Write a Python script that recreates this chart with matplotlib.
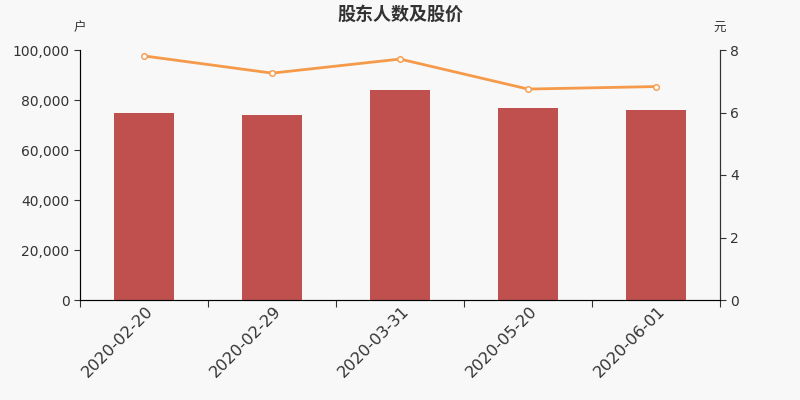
import matplotlib
matplotlib.use("Agg")
import matplotlib.pyplot as plt
from matplotlib.ticker import FuncFormatter

plt.rcParams['font.family'] = ['DejaVu Sans', 'Noto Sans CJK SC']

dates = ["2020-02-20", "2020-02-29", "2020-03-31", "2020-05-20", "2020-06-01"]
holders = [74800, 74000, 84200, 77000, 76000]
price = [7.81, 7.26, 7.71, 6.75, 6.83]

bg = "#f8f8f8"
txt = "#333333"
cjk = ['Noto Sans CJK SC', 'DejaVu Sans']

fig = plt.figure(figsize=(8, 4), dpi=100, facecolor=bg)
ax = fig.add_axes([0.1, 0.25, 0.8, 0.625], facecolor=bg)
x = list(range(len(dates)))
ax.bar(x, holders, width=0.47, color="#c0504d", zorder=2)
ax.set_xlim(-0.5, len(dates) - 0.5)
ax.set_ylim(0, 100000)
ax.set_yticks(range(0, 100001, 20000))
ax.yaxis.set_major_formatter(FuncFormatter(lambda v, p: f"{int(v):,}"))
ax.set_xticks([i - 0.5 for i in range(len(dates) + 1)])
ax.set_xticklabels([])
ax.tick_params(axis='x', length=5, color=txt)
for i, d in enumerate(dates):
    ax.text(i + 0.01, -0.015, d, rotation=45, ha='right', va='top',
            rotation_mode='anchor', fontsize=11.6, color=txt,
            transform=ax.get_xaxis_transform())
ax.tick_params(axis='y', length=4, colors=txt, labelsize=10)
ax.spines['top'].set_visible(False)
for s in ['left', 'bottom', 'right']:
    ax.spines[s].set_color(txt)

ax2 = ax.twinx()
ax2.plot(x, price, color="#f59a4a", lw=2, marker='o', ms=4,
         markerfacecolor='white', markeredgecolor="#f59a4a", markeredgewidth=1, zorder=3)
ax2.set_ylim(0, 8)
ax2.set_yticks(range(0, 9, 2))
ax2.tick_params(axis='y', length=4, colors=txt, labelsize=10)
ax2.spines['top'].set_visible(False)
ax2.spines['right'].set_color(txt)

fig.text(0.5, 0.965, "股东人数及股价", ha='center', va='center', fontsize=13,
         fontweight='bold', color=txt, family=cjk)
fig.text(0.1, 0.93, "户", ha='center', va='center', fontsize=9, color=txt, family=cjk)
fig.text(0.9, 0.93, "元", ha='center', va='center', fontsize=9, color=txt, family=cjk)

fig.savefig("out.png", dpi=100, facecolor=bg)
